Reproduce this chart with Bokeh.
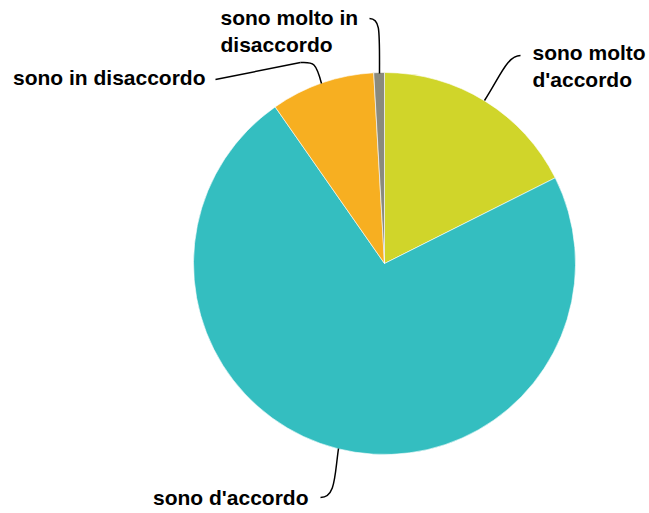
import math
from bokeh.plotting import figure
from bokeh.models import Range1d
from bokeh.core.properties import value
from bokeh.embed import file_html
from bokeh.resources import INLINE

categories = ["sono molto d'accordo", "sono d'accordo", "sono in disaccordo", "sono molto in disaccordo"]
values = [17.6, 72.7, 8.8, 0.9]
colors = ["#D0D52A", "#34BEC0", "#F7AF21", "#8A8A7D"]
label_text = ["sono molto\nd'accordo", "sono d'accordo", "sono in disaccordo", "sono molto in\ndisaccordo"]

W, H = 649, 511
p = figure(width=W, height=H, output_backend="svg", toolbar_location=None,
           x_range=Range1d(0, W), y_range=Range1d(0, H), min_border=0)
p.axis.visible = False
p.grid.visible = False
p.outline_line_color = None

def sx(x):
    return x
def sy(y):
    return H - y

cx, cy, r = sx(384), sy(263), 191
total = sum(values)
starts, ends = [], []
cum = 0.0
for v in values:
    starts.append(math.pi / 2 - cum / total * 2 * math.pi)
    cum += v
    ends.append(math.pi / 2 - cum / total * 2 * math.pi)

p.wedge(x=[cx] * len(values), y=[cy] * len(values), radius=r,
        start_angle=starts, end_angle=ends, direction="clock",
        fill_color=colors, line_color="white", line_width=0.6)

# leader lines (screen coords)
beziers = [
    ((484, 100), (500, 75), (507, 55), (520, 55)),
    ((338, 448), (334, 476), (335, 497), (320, 497)),
    ((321, 83), (315, 60), (312, 62), (300, 62)),
    ((379, 73), (379, 30), (380, 18), (369, 18)),
]
p.bezier(x0=[sx(b[0][0]) for b in beziers], y0=[sy(b[0][1]) for b in beziers],
         cx0=[sx(b[1][0]) for b in beziers], cy0=[sy(b[1][1]) for b in beziers],
         cx1=[sx(b[2][0]) for b in beziers], cy1=[sy(b[2][1]) for b in beziers],
         x1=[sx(b[3][0]) for b in beziers], y1=[sy(b[3][1]) for b in beziers],
         line_color="black", line_width=1.5)
p.segment(x0=[sx(300)], y0=[sy(62)], x1=[sx(215)], y1=[sy(79)], line_color="black", line_width=1.5)

font = value("Liberation Sans")
# left-aligned labels
p.text(x=[sx(532), sx(220)], y=[sy(40), sy(5)], text=[label_text[0], label_text[3]],
       text_font=font, text_font_style="bold", text_font_size="21px",
       text_align="left", text_baseline="top", text_line_height=1.2, text_color="black")
# right-aligned labels
p.text(x=[sx(308), sx(205)], y=[sy(497), sy(77)], text=[label_text[1], label_text[2]],
       text_font=font, text_font_style="bold", text_font_size="21px",
       text_align="right", text_baseline="middle", text_color="black")

open("out.html", "w").write(file_html(p, INLINE))
